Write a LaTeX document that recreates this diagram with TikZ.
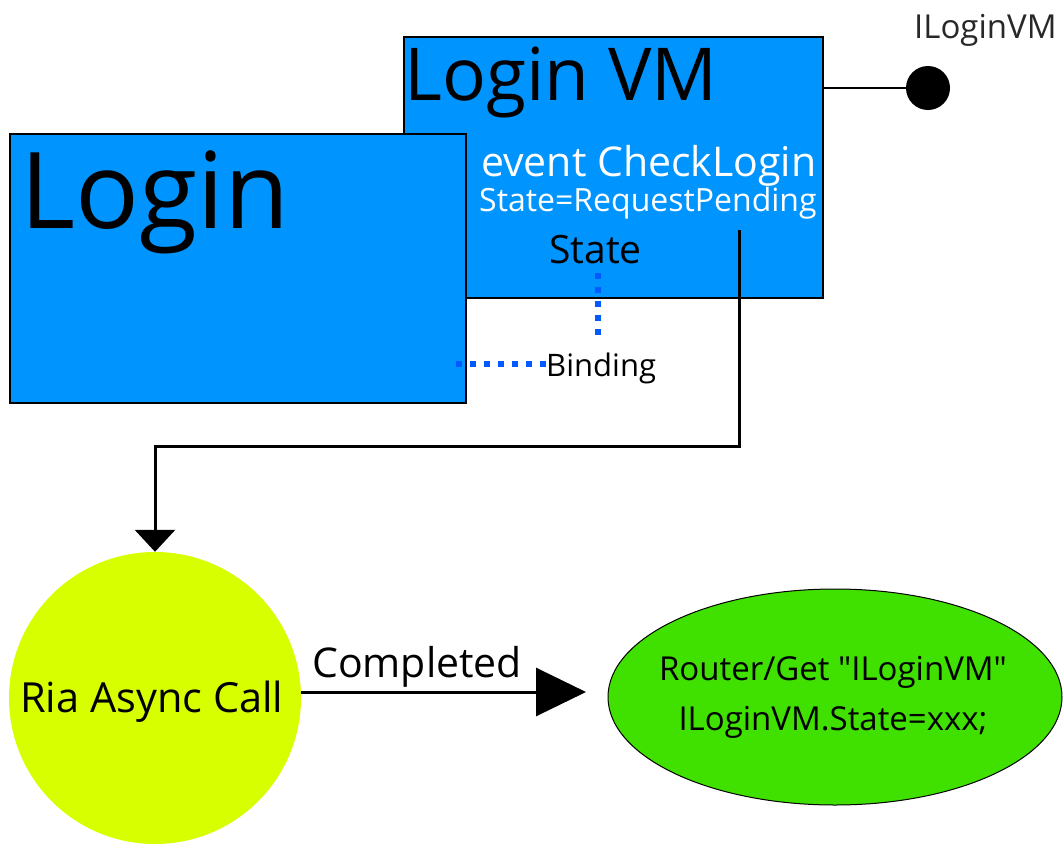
\documentclass[tikz,border=0pt]{standalone}
\usepackage{fontspec}
\setmainfont{Open Sans}
\usetikzlibrary{arrows.meta,shapes.geometric}
\definecolor{panelblue}{RGB}{0,148,255}
\definecolor{bindblue}{RGB}{0,90,255}
\definecolor{callyellow}{RGB}{216,255,0}
\definecolor{routegreen}{RGB}{64,224,0}
\definecolor{labelgray}{RGB}{40,40,40}
\tikzset{
  panel/.style={draw=black, line width=1.5pt, fill=panelblue},
  txt/.style={inner sep=0pt, anchor=base west},
  binding/.style={draw=bindblue, line width=6pt, dash pattern=on 6pt off 8pt},
  flow/.style={draw=black, line width=3pt},
  fs/.style={font=\fontsize{#1}{#1}\selectfont}
}
\begin{document}
\begin{tikzpicture}[x=1pt,y=-1pt]
\useasboundingbox (0,0) rectangle (1063,844);
\fill[white] (0,0) rectangle (1063,844);

% view model panel
\draw[panel] (404,37) rectangle (823,298);
\node[txt, fs=73] (vmtitle) at (404,100) {Login VM};
\node[txt, fs=41, text=white] (evt) at (481,176) {event CheckLogin};
\node[txt, fs=32, text=white] (pend) at (479,211) {State=RequestPending};
\node[txt, fs=39] (state) at (549,263) {State};

% interface lollipop
\coordinate (vmport) at (823,88);
\node[circle, fill=black, minimum size=44pt, inner sep=0pt] (iface) at (928,88) {};
\draw[black, line width=2.5pt] (vmport) -- (iface);
\node[txt, fs=33, text=labelgray] (ifacelbl) at (914,38) {ILoginVM};

% view panel
\draw[panel] (10,134) rectangle (466,403);
\node[txt, fs=106] (login) at (20,228) {Login};

% binding
\coordinate (bindtop) at (598,273);
\coordinate (bindcorner) at (598,340);
\coordinate (bindleft) at (456,364);
\node[txt, fs=31] (bindlbl) at (546,376) {Binding};
\draw[binding] (bindtop) -- (bindcorner);
\draw[binding] (bindleft) -- (bindlbl.west |- bindleft);

% async call
\node[ellipse, fill=callyellow, minimum width=292pt, minimum height=292pt, inner sep=0pt] (call) at (155,698) {};
\node[txt, fs=41.5] (calllbl) at (20,712) {Ria Async Call};

\coordinate (evsrc) at (739,230);
\draw[flow, -{Triangle[width=40pt,length=22pt]}] (evsrc) |- (155,446) -- (call.north);

% router
\node[ellipse, draw=black, line width=1pt, fill=routegreen, minimum width=454pt, minimum height=216pt, inner sep=0pt] (router) at (835,697) {};
\node[fs=33, align=center, inner sep=0pt] (routerlbl) at (833,697) {Router/Get \textquotedbl ILoginVM\textquotedbl\\[17pt]ILoginVM.State=xxx;};

\draw[flow, -{Triangle[width=48pt,length=50pt]}] (call.east |- 0,692) -- (586,692);
\node[txt, fs=41] (done) at (312,677) {Completed};
\end{tikzpicture}
\end{document}
